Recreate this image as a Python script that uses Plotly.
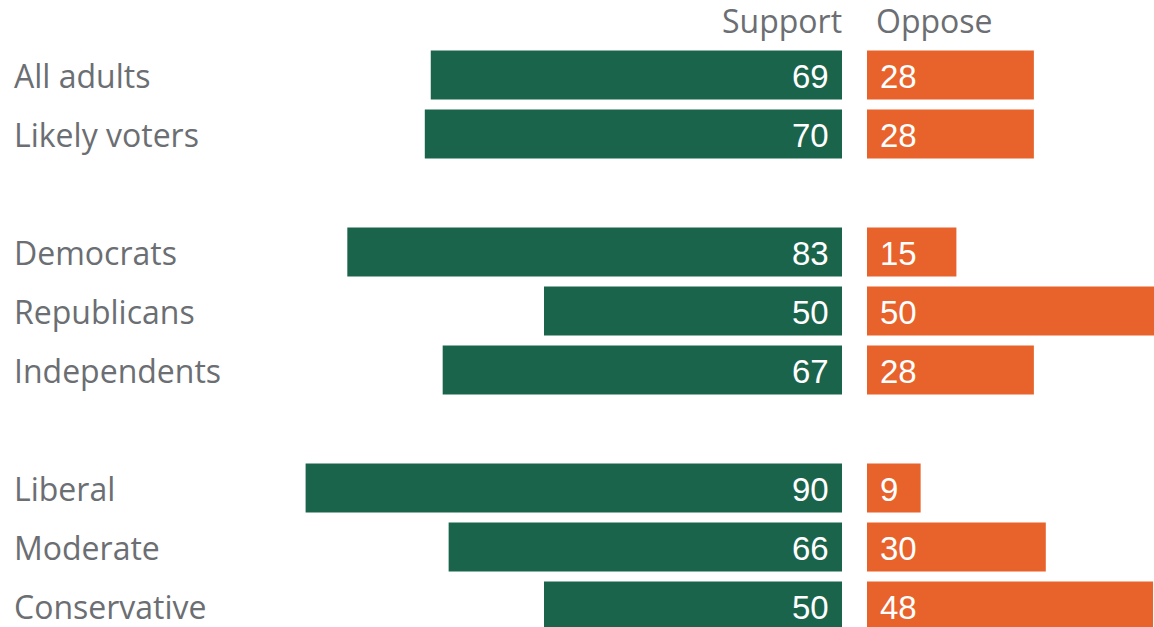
import plotly.graph_objects as go

categories = ["All adults", "Likely voters", "Democrats", "Republicans", "Independents",
              "Liberal", "Moderate", "Conservative"]
row_pos = [0, 1, 3, 4, 5, 7, 8, 9]
support = [69, 70, 83, 50, 67, 90, 66, 50]
oppose = [28, 28, 15, 50, 28, 9, 30, 48]
headers = ["Support", "Oppose"]

GREEN = "#1b644c"
ORANGE = "#e8632b"
GRAY = "#6b6e72"
FONT = "Open Sans"
NUMFONT = "Liberation Sans"

W, H = 1154, 627
px_per_unit = 5.96
split_l, split_r = 842, 867
row_h = 59
first_row = 75

y_top = first_row / row_h
y_span = H / row_h
yrange = [y_top - y_span, y_top]

fig = go.Figure()
fig.add_trace(go.Bar(y=[-r for r in row_pos], x=support, orientation="h",
                     marker=dict(color=GREEN, line=dict(width=0)), width=0.83,
                     xaxis="x", yaxis="y", hoverinfo="skip"))
fig.add_trace(go.Bar(y=[-r for r in row_pos], x=oppose, orientation="h",
                     marker=dict(color=ORANGE, line=dict(width=0)), width=0.83,
                     xaxis="x2", yaxis="y", hoverinfo="skip"))

ann = []
for cat, r, s, o in zip(categories, row_pos, support, oppose):
    ann.append(dict(x=12 / W, xref="paper", y=-r, yref="y", text=cat, showarrow=False,
                    xanchor="left", yanchor="middle", font=dict(family=FONT, size=32, color=GRAY)))
    ann.append(dict(x=0, xref="x", y=-r, yref="y", text=str(s), showarrow=False,
                    xanchor="right", yanchor="middle", xshift=-11, yshift=-1,
                    font=dict(family=NUMFONT, size=33, color="white")))
    ann.append(dict(x=0, xref="x2", y=-r, yref="y", text=str(o), showarrow=False,
                    xanchor="left", yanchor="middle", xshift=11, yshift=-1,
                    font=dict(family=NUMFONT, size=33, color="white")))

ann.append(dict(x=0, xref="x", y=1 - 20 / H, yref="paper", yanchor="middle", text=headers[0],
                showarrow=False, xanchor="right", xshift=2, font=dict(family=FONT, size=32, color=GRAY)))
ann.append(dict(x=0, xref="x2", y=1 - 20 / H, yref="paper", yanchor="middle", text=headers[1],
                showarrow=False, xanchor="left", xshift=7, font=dict(family=FONT, size=32, color=GRAY)))

fig.update_layout(
    width=W, height=H,
    margin=dict(l=0, r=0, t=0, b=0),
    paper_bgcolor="white", plot_bgcolor="white",
    showlegend=False,
    barmode="overlay",
    xaxis=dict(domain=[0, split_l / W], range=[split_l / px_per_unit, 0],
               visible=False, fixedrange=True),
    xaxis2=dict(domain=[split_r / W, 1], range=[0, (W - split_r) / px_per_unit],
                visible=False, fixedrange=True),
    yaxis=dict(range=yrange, visible=False, fixedrange=True),
    annotations=ann,
)

fig.write_html("out.html", config={"displayModeBar": False},
               post_script="document.body.style.margin='0';document.body.style.overflow='hidden';")
